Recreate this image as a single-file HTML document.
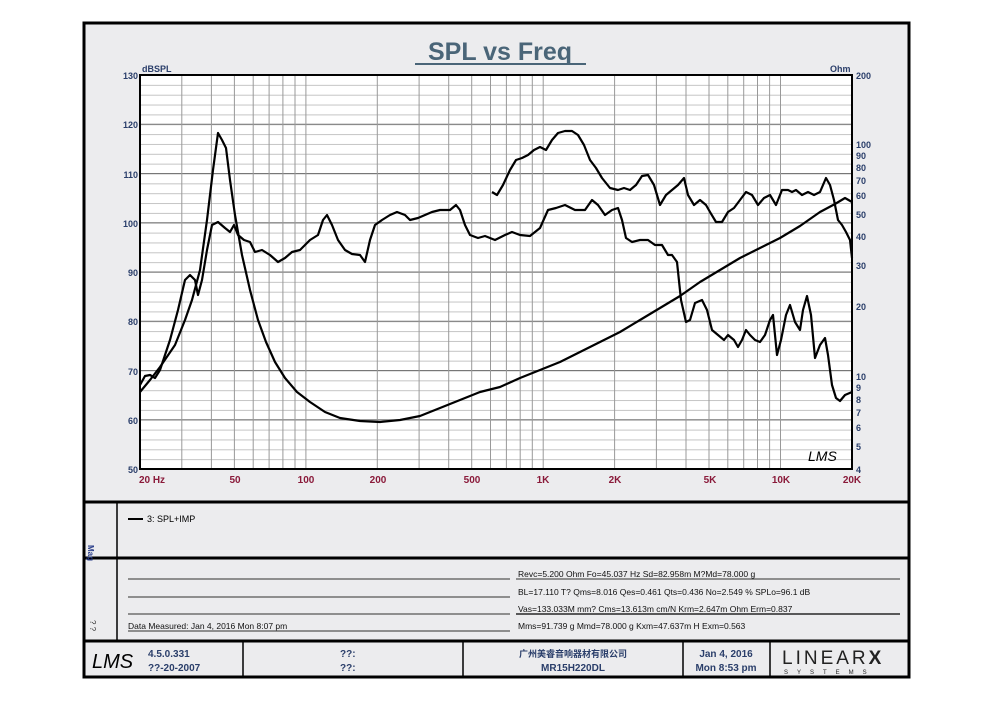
<!DOCTYPE html>
<html><head><meta charset="utf-8"><style>
body{margin:0;background:#fff;width:993px;height:702px;overflow:hidden}
svg{display:block}
text{font-family:"Liberation Sans","Noto Sans CJK SC",sans-serif}
</style></head><body>
<svg width="993" height="702" viewBox="0 0 993 702">
<defs>
<pattern id="hp" x="0" y="75" width="10" height="9.85" patternUnits="userSpaceOnUse">
<line x1="0" x2="10" y1="0.5" y2="0.5" stroke="#c4c4c4" stroke-width="1"/>
</pattern>
</defs>
<rect x="84" y="23" width="825" height="654" fill="#ececee" stroke="#000" stroke-width="3"/>
<text x="500" y="60" text-anchor="middle" font-size="25" font-weight="bold" fill="#4a6578">SPL vs Freq</text>
<line x1="415" y1="64" x2="586" y2="64" stroke="#4a6578" stroke-width="2"/>
<rect x="140" y="75" width="712" height="394" fill="#fff"/>
<rect x="140" y="75" width="712" height="394" fill="url(#hp)"/>
<g stroke="#777" stroke-width="1">
<line x1="140" x2="852" y1="124.25" y2="124.25"/><line x1="140" x2="852" y1="173.5" y2="173.5"/>
<line x1="140" x2="852" y1="222.75" y2="222.75"/><line x1="140" x2="852" y1="272" y2="272"/>
<line x1="140" x2="852" y1="321.25" y2="321.25"/><line x1="140" x2="852" y1="370.5" y2="370.5"/>
<line x1="140" x2="852" y1="419.75" y2="419.75"/>
</g>
<g stroke="#999" stroke-width="1">
<line y1="75" y2="469" x1="181.8" x2="181.8"/><line y1="75" y2="469" x1="211.4" x2="211.4"/>
<line y1="75" y2="469" x1="234.4" x2="234.4"/><line y1="75" y2="469" x1="253.2" x2="253.2"/>
<line y1="75" y2="469" x1="269.1" x2="269.1"/><line y1="75" y2="469" x1="282.9" x2="282.9"/>
<line y1="75" y2="469" x1="295" x2="295"/><line y1="75" y2="469" x1="305.9" x2="305.9"/>
<line y1="75" y2="469" x1="377.3" x2="377.3"/><line y1="75" y2="469" x1="419.1" x2="419.1"/>
<line y1="75" y2="469" x1="448.7" x2="448.7"/><line y1="75" y2="469" x1="471.7" x2="471.7"/>
<line y1="75" y2="469" x1="490.5" x2="490.5"/><line y1="75" y2="469" x1="506.4" x2="506.4"/>
<line y1="75" y2="469" x1="520.2" x2="520.2"/><line y1="75" y2="469" x1="532.3" x2="532.3"/>
<line y1="75" y2="469" x1="543.2" x2="543.2"/><line y1="75" y2="469" x1="614.6" x2="614.6"/>
<line y1="75" y2="469" x1="656.4" x2="656.4"/><line y1="75" y2="469" x1="686" x2="686"/>
<line y1="75" y2="469" x1="709" x2="709"/><line y1="75" y2="469" x1="727.8" x2="727.8"/>
<line y1="75" y2="469" x1="743.7" x2="743.7"/><line y1="75" y2="469" x1="757.5" x2="757.5"/>
<line y1="75" y2="469" x1="769.6" x2="769.6"/><line y1="75" y2="469" x1="780.5" x2="780.5"/>
</g>
<rect x="140" y="75" width="712" height="394" fill="none" stroke="#000" stroke-width="2"/>
<g font-size="9" font-weight="bold" fill="#2a3e6a">
<text x="138" y="79" text-anchor="end">130</text><text x="142" y="72">dBSPL</text>
<text x="138" y="128" text-anchor="end">120</text><text x="138" y="178" text-anchor="end">110</text>
<text x="138" y="227" text-anchor="end">100</text><text x="138" y="276" text-anchor="end">90</text>
<text x="138" y="325" text-anchor="end">80</text><text x="138" y="375" text-anchor="end">70</text>
<text x="138" y="424" text-anchor="end">60</text><text x="138" y="473" text-anchor="end">50</text>
<text x="830" y="72">Ohm</text><text x="856" y="79">200</text>
<text x="856" y="148">100</text><text x="856" y="159">90</text><text x="856" y="171">80</text>
<text x="856" y="184">70</text><text x="856" y="199">60</text><text x="856" y="218">50</text>
<text x="856" y="240">40</text><text x="856" y="269">30</text><text x="856" y="310">20</text>
<text x="856" y="380">10</text><text x="856" y="391">9</text><text x="856" y="403">8</text>
<text x="856" y="416">7</text><text x="856" y="431">6</text><text x="856" y="450">5</text><text x="856" y="473">4</text>
</g>
<g font-size="10" font-weight="bold" fill="#8a1a3a" text-anchor="middle">
<text x="152" y="483">20 Hz</text><text x="235" y="483">50</text><text x="306" y="483">100</text>
<text x="378" y="483">200</text><text x="472" y="483">500</text><text x="543" y="483">1K</text>
<text x="615" y="483">2K</text><text x="710" y="483">5K</text><text x="781" y="483">10K</text><text x="852" y="483">20K</text>
</g>
<text x="808" y="461" font-size="14" font-style="italic" font-family="Liberation Serif,serif">LMS</text>
<g fill="none" stroke="#000" stroke-width="2.2" stroke-linejoin="round">
<polyline points="140,385 145,376 150,375 155,378 160,370 165,355 170,340 178,310 185,280 190,275 195,280 198,295 202,280 207,250 212,225 218,222 225,228 230,232 234,225 238,235 244,240 250,242 255,252 262,250 270,255 278,262 285,258 292,252 300,250 310,240 318,235 323,220 327,215 332,225 338,240 345,250 352,254 360,255 365,262 370,240 375,225 382,220 390,215 397,212 405,215 410,220 418,218 425,215 432,212 440,210 450,210 456,205 460,210 465,225 470,235 478,238 485,236 495,240 505,235 512,232 520,235 530,236 540,228 548,210 556,208 565,205 575,210 585,210 592,200 598,205 605,215 612,210 618,208 622,220 626,238 632,242 640,240 648,240 655,245 662,245 668,255 672,255 677,262 681,300 686,322 690,320 695,303 702,300 707,310 712,330 718,335 724,340 728,335 734,340 738,347 742,340 746,330 750,335 755,340 760,342 765,335 770,320 773,315 777,355 781,340 786,315 790,305 795,322 800,330 803,310 807,296 811,315 815,358 820,345 825,338 828,355 832,385 836,398 840,401 845,395 852,392"/>
<polyline points="492,192 497,195 503,185 510,170 516,160 522,158 528,155 534,150 540,147 546,150 552,140 558,133 565,131 572,131 578,135 584,145 590,160 596,168 602,178 610,188 618,190 624,188 630,190 636,185 642,176 648,175 654,185 660,205 666,195 672,190 678,185 684,178 688,195 694,205 700,200 706,205 710,212 716,222 722,222 728,212 734,208 740,200 746,192 752,195 758,205 764,198 770,195 776,205 782,190 788,190 792,192 796,190 802,195 808,192 814,195 820,192 826,178 830,185 834,200 838,220 842,225 846,232 850,240 852,258"/>
<polyline points="140,392 150,380 160,367 175,345 185,320 192,300 200,270 207,220 213,170 218,133 222,140 226,148 230,180 235,215 242,255 250,290 258,320 266,342 275,362 285,378 297,392 310,402 325,412 340,418 360,421 380,422 400,420 420,416 440,408 460,400 480,392 500,387 520,378 540,370 560,362 580,352 600,342 620,332 640,320 660,308 680,296 700,282 720,270 740,258 760,248 780,238 800,226 820,212 835,204 845,198 852,202"/>
</g>
<g stroke="#000" stroke-width="3"><line x1="84" y1="502" x2="909" y2="502"/><line x1="84" y1="558" x2="909" y2="558"/><line x1="84" y1="641" x2="909" y2="641"/></g>
<line x1="117" y1="502" x2="117" y2="641" stroke="#000" stroke-width="1.5"/>
<line x1="128" y1="519" x2="143" y2="519" stroke="#000" stroke-width="2"/>
<text x="147" y="522" font-size="9">3: SPL+IMP</text>
<text x="88" y="545" font-size="8" fill="#2a3e8a" font-weight="bold" transform="rotate(90 88 545)">Mag</text>
<g stroke="#555" stroke-width="1.2">
<line x1="128" y1="579" x2="510" y2="579"/><line x1="128" y1="597" x2="510" y2="597"/><line x1="128" y1="614" x2="510" y2="614"/><line x1="128" y1="631" x2="510" y2="631"/>
<line x1="516" y1="579" x2="900" y2="579"/><line x1="516" y1="614" x2="900" y2="614" stroke="#000"/>
</g>
<g font-size="8.5" fill="#111">
<text x="518" y="577">Revc=5.200 Ohm  Fo=45.037 Hz  Sd=82.958m M?Md=78.000 g</text>
<text x="518" y="595">BL=17.110 T?  Qms=8.016  Qes=0.461  Qts=0.436  No=2.549 %  SPLo=96.1 dB</text>
<text x="518" y="612">Vas=133.033M mm?  Cms=13.613m cm/N  Krm=2.647m Ohm  Erm=0.837</text>
<text x="518" y="629">Mms=91.739 g  Mmd=78.000 g  Kxm=47.637m H  Exm=0.563</text>
<text x="128" y="629">Data Measured: Jan 4, 2016  Mon  8:07 pm</text>
</g>
<text x="90" y="620" font-size="8" fill="#333" transform="rotate(90 90 620)">? ?</text>
<g stroke="#000" stroke-width="1.5"><line x1="243" y1="641" x2="243" y2="677"/><line x1="463" y1="641" x2="463" y2="677"/><line x1="683" y1="641" x2="683" y2="677"/><line x1="770" y1="641" x2="770" y2="677"/></g>
<text x="92" y="668" font-size="20" font-style="italic" font-family="Liberation Serif,serif">LMS</text>
<g font-size="10" font-weight="bold" fill="#2a3e6a">
<text x="148" y="657">4.5.0.331</text><text x="148" y="671">??-20-2007</text>
<text x="340" y="657">??:</text><text x="340" y="671">??:</text>
<text x="573" y="657" text-anchor="middle" font-size="9">广州美睿音响器材有限公司</text><text x="573" y="671" text-anchor="middle">MR15H220DL</text>
<text x="726" y="657" text-anchor="middle">Jan 4, 2016</text><text x="726" y="671" text-anchor="middle">Mon  8:53 pm</text>
</g>
<text x="782" y="664" font-size="19" font-family="Liberation Serif,serif" letter-spacing="3" fill="#222">LINEAR<tspan font-weight="bold" font-family="Liberation Sans,sans-serif">X</tspan></text>
<text x="784" y="674" font-size="6" letter-spacing="9" fill="#222">SYSTEMS</text>
</svg>
</body></html>
